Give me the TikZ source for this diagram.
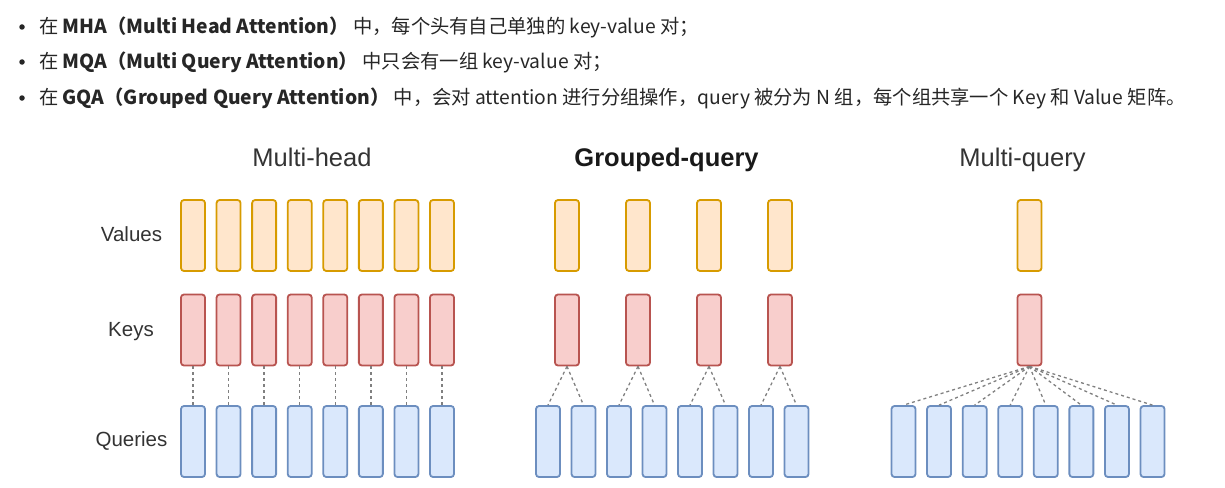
\documentclass[tikz,border=0pt]{standalone}
\usepackage{fontspec}
\setmainfont{Liberation Sans}
\newfontfamily\cjk{Noto Sans CJK SC}
\usetikzlibrary{positioning}
\definecolor{valfill}{HTML}{FFE6CC}
\definecolor{valdraw}{HTML}{D79B00}
\definecolor{keyfill}{HTML}{F8CECC}
\definecolor{keydraw}{HTML}{B85450}
\definecolor{qfill}{HTML}{DAE8FC}
\definecolor{qdraw}{HTML}{6C8EBF}
\definecolor{labelgray}{HTML}{333333}
\tikzset{
  vec/.style={
    rectangle,
    rounded corners=3pt,
    line width=1.8pt,
    minimum width=24pt,
    minimum height=71pt,
    inner sep=0pt
  },
  valuebox/.style={vec, draw=valdraw, fill=valfill},
  keybox/.style={vec, draw=keydraw, fill=keyfill},
  querybox/.style={vec, draw=qdraw, fill=qfill},
  rowlabel/.style={
    anchor=base,
    font=\fontsize{20.5}{24}\selectfont,
    text=labelgray
  },
  heading/.style={
    anchor=base,
    font=\fontsize{25.5}{30}\selectfont,
    text=labelgray
  },
  dot/.style={circle, fill=black!85, inner sep=0pt, minimum size=5.5pt},
  bulletline/.style={
    anchor=west,
    inner sep=0pt,
    text=black!85,
    font=\cjk\fontsize{19.3}{23}\selectfont
  },
  share/.style={
    dash pattern=on 3pt off 3pt,
    line width=1.3pt,
    draw=black!50
  }
}

\begin{document}
\begin{tikzpicture}[x=1pt, y=-1pt]
  \useasboundingbox (0,0) rectangle (1225,487);

  % bullet list
  \node[dot] (b1) at (22,27) {};
  \node[dot] (b2) at (22,62) {};
  \node[dot] (b3) at (22,98) {};
  \node[bulletline] (mha) at (39,27) {在 \textbf{MHA（Multi Head Attention）} 中，每个头有自己单独的 key-value 对；};
  \node[bulletline] (mqa) at (39,62) {在 \textbf{MQA（Multi Query Attention）} 中只会有一组 key-value 对；};
  \node[bulletline] (gqa) at (39,98) {在 \textbf{GQA（Grouped Query Attention）} 中，会对 attention 进行分组操作，query 被分为 N 组，每个组共享一个 Key 和 Value 矩阵。};

  % row labels and headings
  \node[rowlabel] (values) at (131.5,241.7) {Values};
  \node[rowlabel] (keys) at (131,336.7) {Keys};
  \node[rowlabel] (queries) at (131.5,446.7) {Queries};
  \node[heading] (multihead) at (312,166.3) {Multi-head};
  \node[heading, font=\fontsize{25.5}{30}\selectfont\bfseries, text=black!90] (grouped) at (666.5,166.3) {Grouped-query};
  \node[heading] (multiquery) at (1022.5,166.3) {Multi-query};

  % multi-head
  \foreach \i in {1,...,8} {
    \node[valuebox] (mv\i) at ({193+35.57*(\i-1)},235.5) {};
    \node[keybox] (mk\i) at ({193+35.57*(\i-1)},330) {};
    \node[querybox] (mq\i) at ({193+35.57*(\i-1)},441.5) {};
    \draw[share] (mk\i) -- (mq\i);
  }

  % grouped-query
  \foreach \g in {1,...,4} {
    \node[valuebox] (gv\g) at ({567+71*(\g-1)},235.5) {};
    \node[keybox] (gk\g) at ({567+71*(\g-1)},330) {};
  }
  \foreach \i in {1,...,8}
    \node[querybox] (gq\i) at ({548+35.5*(\i-1)},441.5) {};
  \foreach \g/\a/\b in {1/1/2, 2/3/4, 3/5/6, 4/7/8} {
    \draw[share] (gk\g.south) -- (gq\a.north);
    \draw[share] (gk\g.south) -- (gq\b.north);
  }

  % multi-query
  \node[valuebox] (qv) at (1029.5,235.5) {};
  \node[keybox] (qk) at (1029.5,330) {};
  \foreach \i in {1,...,8} {
    \node[querybox] (qq\i) at ({903.5+35.57*(\i-1)},441.5) {};
    \draw[share] (qk.south) -- (qq\i.north);
  }
\end{tikzpicture}
\end{document}
